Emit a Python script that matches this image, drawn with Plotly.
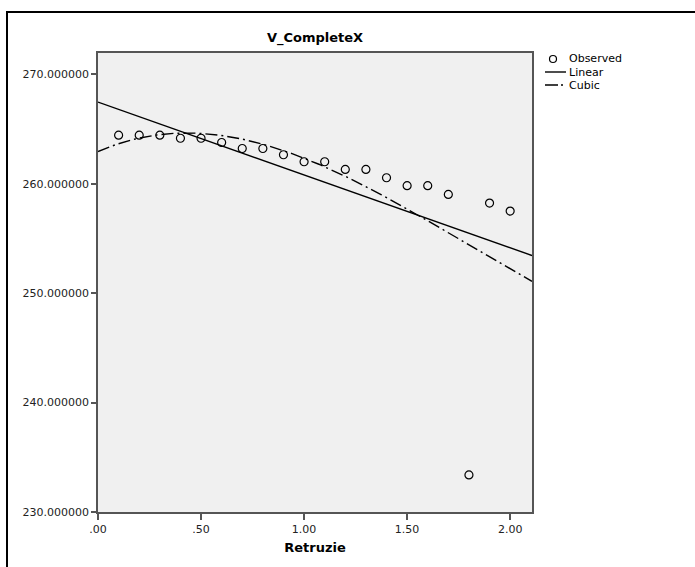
import numpy as np
import plotly.graph_objects as go

# ---- data ----
retruzie = [0.1, 0.2, 0.3, 0.4, 0.5, 0.6, 0.7, 0.8, 0.9, 1.0,
            1.1, 1.2, 1.3, 1.4, 1.5, 1.6, 1.7, 1.8, 1.9, 2.0]
observed = [264.44, 264.44, 264.44, 264.16, 264.16, 263.77, 263.22, 263.22, 262.65, 262.01,
            262.01, 261.31, 261.31, 260.55, 259.82, 259.82, 259.02, 233.39, 258.23, 257.50]
x_tickvals = [0.0, 0.5, 1.0, 1.5, 2.0]
x_ticktext = [".00", ".50", "1.00", "1.50", "2.00"]
y_tickvals = [230, 240, 250, 260, 270]
x_range = [0.0, 2.106]
y_range = [230.0, 271.95]

# ---- fitted curves (curve estimation on the observed data) ----
xa = np.array(retruzie)
ya = np.array(observed)
lin_coef = np.polyfit(xa, ya, 1)
cub_coef = np.polyfit(xa, ya, 3)
xs = np.linspace(x_range[0], x_range[1], 200)
lin_y = np.polyval(lin_coef, xs)
cub_y = np.polyval(cub_coef, xs)

FONT = "DejaVu Sans"
AXC = "#555555"

fig = go.Figure()
fig.add_trace(go.Scatter(x=xs, y=lin_y, mode="lines", name="Linear",
                         line=dict(color="black", width=1.4), showlegend=False))
fig.add_trace(go.Scatter(x=xs, y=cub_y, mode="lines", name="Cubic",
                         line=dict(color="black", width=1.4, dash="12px,4px,2px,4px"),
                         showlegend=False))
fig.add_trace(go.Scatter(x=retruzie, y=observed, mode="markers", name="Observed",
                         marker=dict(symbol="circle-open", size=8, color="black",
                                     line=dict(width=1.2, color="black")),
                         showlegend=False))

L, R, T, B = 98, 163, 53, 55
W, H = 695, 567
pw, ph = W - L - R, H - T - B

def px(xp):
    return (xp - L) / pw

def py(yp):
    return (H - B - yp) / ph

shapes = [
    # outer frame
    dict(type="rect", xref="paper", yref="paper", x0=px(7), x1=px(720), y0=py(590), y1=py(12),
         line=dict(color="black", width=2), fillcolor="rgba(0,0,0,0)", layer="above"),
    # legend lines
    dict(type="line", xref="paper", yref="paper", x0=px(545), x1=px(566), y0=py(72), y1=py(72),
         line=dict(color="black", width=1.4)),
    dict(type="line", xref="paper", yref="paper", x0=px(545), x1=px(566), y0=py(85), y1=py(85),
         line=dict(color="black", width=1.4, dash="13px,3px,2px,3px")),
    # legend marker
    dict(type="circle", xref="paper", yref="paper", xsizemode="pixel", ysizemode="pixel",
         xanchor=px(553), yanchor=py(59), x0=-3.5, x1=3.5, y0=-3.5, y1=3.5,
         line=dict(color="black", width=1.2)),
]

annotations = [
    dict(text=t, xref="paper", yref="paper", x=px(567), y=py(yy), xanchor="left", yanchor="middle",
         showarrow=False, font=dict(family=FONT, size=11, color="black"))
    for t, yy in [("Observed", 59), ("Linear", 72), ("Cubic", 85)]
]

fig.update_layout(
    width=W, height=H,
    margin=dict(l=L, r=R, t=T, b=B),
    paper_bgcolor="white",
    plot_bgcolor="#f0f0f0",
    font=dict(family=FONT, size=11, color="#222222"),
    title=dict(text="<b>V_CompleteX</b>", x=(L + pw / 2) / W, xanchor="center",
               y=1 - 37 / H, yanchor="middle", font=dict(family=FONT, size=13, color="black")),
    shapes=shapes,
    annotations=annotations,
    showlegend=False,
)
fig.update_xaxes(range=x_range, tickvals=x_tickvals, ticktext=x_ticktext,
                 showgrid=False, zeroline=False, showline=True, linecolor=AXC, linewidth=1.5,
                 mirror=True, ticks="outside", ticklen=6, tickcolor=AXC, tickwidth=1.5,
                 tickfont=dict(family=FONT, size=11, color="#222222"),
                 title=dict(text="<b>Retruzie</b>", font=dict(family=FONT, size=13, color="black"),
                            standoff=8))
fig.update_yaxes(range=y_range, tickvals=y_tickvals, tickformat=".6f",
                 showgrid=False, zeroline=False, showline=True, linecolor=AXC, linewidth=1.5,
                 mirror=True, ticks="outside", ticklen=5, tickcolor=AXC, tickwidth=1.5,
                 tickfont=dict(family=FONT, size=11, color="#222222"))

fig.write_html("out.html",
               config={"displayModeBar": False},
               post_script="document.body.style.margin='0px';document.body.style.overflow='hidden';")
